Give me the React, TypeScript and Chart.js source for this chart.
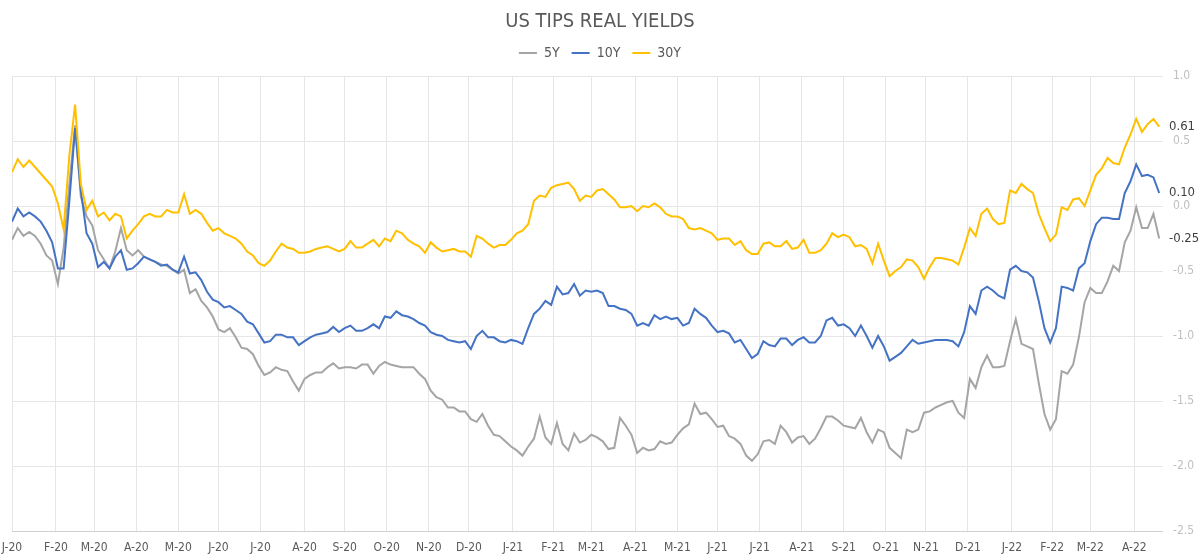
import { useEffect, useRef } from "react";
import { Chart, registerables } from "chart.js";

Chart.register(...registerables);

// ---- data -------------------------------------------------------------
// Observations every 3 weekdays, starting on the first weekday of 2020.
const FIRST_DAY = "2020-01-01";
const LAST_AXIS_DAY = "2022-04-22";
const STEP_WEEKDAYS = 3;

const SERIES_NAMES = ["5Y", "10Y", "30Y"];
const SERIES_COLORS = ["#A5A5A5", "#4472C4", "#FFC000"];

const MONTH_LABELS = [
  "J-20", "F-20", "M-20", "A-20", "M-20", "J-20", "J-20", "A-20", "S-20", "O-20", "N-20", "D-20",
  "J-21", "F-21", "M-21", "A-21", "M-21", "J-21", "J-21", "A-21", "S-21", "O-21", "N-21", "D-21",
  "J-22", "F-22", "M-22", "A-22",
];

const Y_MIN = -2.5;
const Y_MAX = 1.0;
const Y_STEP = 0.5;

// 5-year TIPS real yield (%)
const YIELD_5Y = [
  -0.26, -0.17, -0.23, -0.20, -0.23, -0.29, -0.38, -0.42, -0.60, -0.32,
  0.17, 0.62, 0.07, -0.08, -0.15, -0.34, -0.41, -0.48, -0.35, -0.17,
  -0.34, -0.38, -0.34, -0.39, -0.41, -0.43, -0.45, -0.46, -0.49, -0.52,
  -0.49, -0.67, -0.64, -0.73, -0.78, -0.85, -0.95, -0.97, -0.94, -1.01,
  -1.09, -1.10, -1.14, -1.23, -1.30, -1.28, -1.24, -1.26, -1.27, -1.35,
  -1.42, -1.33, -1.30, -1.28, -1.28, -1.24, -1.21, -1.25, -1.24, -1.24,
  -1.25, -1.22, -1.22, -1.29, -1.23, -1.20, -1.22, -1.23, -1.24, -1.24,
  -1.24, -1.29, -1.33, -1.42, -1.47, -1.49, -1.55, -1.55, -1.58, -1.58,
  -1.64, -1.66, -1.60, -1.69, -1.76, -1.77, -1.81, -1.85, -1.88, -1.92,
  -1.85, -1.79, -1.62, -1.78, -1.83, -1.67, -1.83, -1.88, -1.75, -1.82,
  -1.80, -1.76, -1.78, -1.81, -1.87, -1.86, -1.63, -1.69, -1.76, -1.90,
  -1.86, -1.88, -1.87, -1.81, -1.83, -1.82, -1.76, -1.71, -1.68, -1.52,
  -1.60, -1.59, -1.64, -1.70, -1.69, -1.77, -1.79, -1.83, -1.92, -1.96,
  -1.91, -1.81, -1.80, -1.83, -1.69, -1.74, -1.82, -1.78, -1.77, -1.83,
  -1.79, -1.71, -1.62, -1.62, -1.65, -1.69, -1.70, -1.71, -1.63, -1.74,
  -1.82, -1.72, -1.74, -1.86, -1.90, -1.94, -1.72, -1.74, -1.72, -1.59,
  -1.58, -1.55, -1.53, -1.51, -1.50, -1.59, -1.63, -1.33, -1.40, -1.24,
  -1.15, -1.24, -1.24, -1.23, -1.04, -0.87, -1.06, -1.08, -1.10, -1.36,
  -1.60, -1.72, -1.64, -1.27, -1.29, -1.22, -1.01, -0.74, -0.63, -0.67,
  -0.67, -0.58, -0.46, -0.50, -0.28, -0.19, -0.01, -0.17, -0.17, -0.06,
  -0.25,
];

// 10-year TIPS real yield (%)
const YIELD_10Y = [
  -0.12, -0.02, -0.08, -0.05, -0.08, -0.12, -0.19, -0.28, -0.48, -0.48,
  0.04, 0.60, 0.12, -0.21, -0.29, -0.47, -0.43, -0.48, -0.39, -0.34,
  -0.49, -0.48, -0.44, -0.39, -0.41, -0.43, -0.46, -0.45, -0.49, -0.51,
  -0.39, -0.52, -0.51, -0.57, -0.66, -0.72, -0.74, -0.78, -0.77, -0.80,
  -0.83, -0.89, -0.91, -0.98, -1.05, -1.04, -0.99, -0.99, -1.01, -1.01,
  -1.07, -1.04, -1.01, -0.99, -0.98, -0.97, -0.93, -0.97, -0.94, -0.92,
  -0.96, -0.96, -0.94, -0.91, -0.94, -0.85, -0.86, -0.81, -0.84, -0.85,
  -0.87, -0.90, -0.92, -0.97, -0.99, -1.00, -1.03, -1.04, -1.05, -1.04,
  -1.10, -1.00, -0.96, -1.01, -1.01, -1.04, -1.05, -1.03, -1.04, -1.06,
  -0.94, -0.83, -0.79, -0.73, -0.76, -0.62, -0.68, -0.67, -0.60, -0.69,
  -0.65, -0.66, -0.65, -0.67, -0.77, -0.77, -0.79, -0.80, -0.83, -0.92,
  -0.90, -0.92, -0.84, -0.87, -0.85, -0.87, -0.86, -0.92, -0.90, -0.79,
  -0.83, -0.86, -0.92, -0.97, -0.96, -0.98, -1.05, -1.03, -1.10, -1.17,
  -1.14, -1.04, -1.07, -1.08, -1.02, -1.02, -1.07, -1.03, -1.01, -1.05,
  -1.05, -1.00, -0.88, -0.86, -0.92, -0.91, -0.94, -1.00, -0.92, -1.00,
  -1.09, -1.00, -1.08, -1.19, -1.16, -1.13, -1.08, -1.03, -1.06, -1.05,
  -1.04, -1.03, -1.03, -1.03, -1.04, -1.08, -0.97, -0.77, -0.83, -0.65,
  -0.62, -0.65, -0.69, -0.71, -0.49, -0.46, -0.50, -0.51, -0.55, -0.73,
  -0.94, -1.05, -0.94, -0.62, -0.63, -0.65, -0.48, -0.44, -0.27, -0.14,
  -0.09, -0.09, -0.10, -0.10, 0.10, 0.19, 0.32, 0.23, 0.24, 0.22,
  0.10,
];

// 30-year TIPS real yield (%)
const YIELD_30Y = [
  0.26, 0.36, 0.30, 0.35, 0.30, 0.25, 0.20, 0.15, 0.02, -0.18,
  0.39, 0.78, 0.17, -0.03, 0.04, -0.08, -0.05, -0.11, -0.06, -0.08,
  -0.25, -0.19, -0.14, -0.08, -0.06, -0.08, -0.08, -0.03, -0.05, -0.05,
  0.09, -0.06, -0.03, -0.06, -0.13, -0.19, -0.17, -0.21, -0.23, -0.25,
  -0.29, -0.35, -0.38, -0.44, -0.46, -0.42, -0.35, -0.29, -0.32, -0.33,
  -0.36, -0.36, -0.35, -0.33, -0.32, -0.31, -0.33, -0.35, -0.33, -0.27,
  -0.32, -0.32, -0.29, -0.26, -0.31, -0.25, -0.27, -0.19, -0.21, -0.26,
  -0.29, -0.31, -0.36, -0.28, -0.32, -0.35, -0.34, -0.33, -0.35, -0.35,
  -0.39, -0.23, -0.25, -0.29, -0.32, -0.30, -0.30, -0.26, -0.21, -0.19,
  -0.14, 0.04, 0.08, 0.07, 0.14, 0.16, 0.17, 0.18, 0.13, 0.04,
  0.08, 0.07, 0.12, 0.13, 0.09, 0.05, -0.01, -0.01, 0.00, -0.04,
  0.00, -0.01, 0.02, -0.01, -0.06, -0.08, -0.08, -0.10, -0.17, -0.18,
  -0.17, -0.19, -0.21, -0.26, -0.25, -0.25, -0.30, -0.27, -0.34, -0.37,
  -0.37, -0.29, -0.28, -0.31, -0.31, -0.27, -0.33, -0.32, -0.26, -0.36,
  -0.36, -0.34, -0.29, -0.21, -0.24, -0.22, -0.24, -0.31, -0.30, -0.33,
  -0.44, -0.29, -0.42, -0.54, -0.50, -0.47, -0.41, -0.42, -0.47, -0.56,
  -0.47, -0.40, -0.40, -0.41, -0.42, -0.45, -0.32, -0.17, -0.23, -0.06,
  -0.02, -0.10, -0.14, -0.13, 0.12, 0.10, 0.17, 0.13, 0.10, -0.06,
  -0.17, -0.27, -0.22, -0.01, -0.03, 0.05, 0.06, 0.00, 0.12, 0.24,
  0.29, 0.37, 0.33, 0.32, 0.45, 0.55, 0.67, 0.57, 0.63, 0.67,
  0.61,
];

const SERIES_VALUES = [YIELD_5Y, YIELD_10Y, YIELD_30Y];

// ---- helpers -------------------------------------------------------------
const FONT = "'Liberation Sans Narrow', 'DejaVu Sans Condensed', 'Roboto', sans-serif";

function parseDay(s: string): Date {
  const [y, m, d] = s.split("-").map(Number);
  return new Date(Date.UTC(y, m - 1, d));
}

// number of weekdays from FIRST_DAY up to (not including) the given date
function weekdayIndex(target: Date): number {
  const d = parseDay(FIRST_DAY);
  let n = 0;
  while (d < target) {
    const w = d.getUTCDay();
    if (w !== 0 && w !== 6) n++;
    d.setUTCDate(d.getUTCDate() + 1);
  }
  return n;
}

function monthTickPositions(): number[] {
  const start = parseDay(FIRST_DAY);
  return MONTH_LABELS.map((_, i) =>
    weekdayIndex(new Date(Date.UTC(start.getUTCFullYear(), start.getUTCMonth() + i, 1)))
  );
}

// extra room between the legend row and the plot
const legendGap = {
  id: "legendGap",
  afterInit(chart: any) {
    const legend = chart.legend;
    if (!legend) return;
    const baseFit = legend.fit;
    legend.fit = function () {
      baseFit.call(this);
      this.height += 6;
    };
  },
};

// value labels printed just right of the plot, at each series' last point
const lastValueLabels = {
  id: "lastValueLabels",
  afterDatasetsDraw(chart: any) {
    const { ctx, chartArea } = chart;
    chart.data.datasets.forEach((ds: any, i: number) => {
      const meta = chart.getDatasetMeta(i);
      const pt = meta.data[meta.data.length - 1];
      const v = ds.data[ds.data.length - 1].y as number;
      ctx.save();
      ctx.font = `13px ${FONT}`;
      ctx.fillStyle = "#404040";
      ctx.textAlign = "left";
      ctx.textBaseline = "middle";
      ctx.fillText(v.toFixed(2), chartArea.right + 6, pt.y);
      ctx.restore();
    });
  },
};

export default function App() {
  const canvasRef = useRef<HTMLCanvasElement | null>(null);

  useEffect(() => {
    document.body.style.margin = "0";
    const canvas = canvasRef.current;
    if (!canvas) return;

    const ticksAt = monthTickPositions();
    const xMax = weekdayIndex(parseDay(LAST_AXIS_DAY));

    const datasets = SERIES_NAMES.map((name, s) => ({
      label: name,
      data: SERIES_VALUES[s].map((v, k) => ({ x: k * STEP_WEEKDAYS, y: v })),
      borderColor: SERIES_COLORS[s],
      backgroundColor: SERIES_COLORS[s],
      borderWidth: 2,
      pointRadius: 0,
      pointStyle: "line" as const,
      tension: 0,
      order: SERIES_NAMES.length - s,
    }));

    const chart = new Chart(canvas, {
      type: "line",
      data: { datasets },
      plugins: [legendGap, lastValueLabels],
      options: {
        animation: false,
        responsive: true,
        maintainAspectRatio: false,
        layout: { padding: 0 },
        plugins: {
          title: {
            display: true,
            text: "US TIPS REAL YIELDS",
            color: "#595959",
            font: { family: FONT, size: 20, weight: "normal" },
            padding: { top: 10, bottom: 0 },
          },
          legend: {
            display: true,
            position: "top",
            labels: {
              usePointStyle: true,
              pointStyleWidth: 18,
              boxHeight: 14,
              color: "#595959",
              font: { family: FONT, size: 14 },
              padding: 12,
              sort: (a: any, b: any) => a.datasetIndex - b.datasetIndex,
            },
          },
          tooltip: { enabled: false },
        },
        scales: {
          x: {
            type: "linear",
            min: 0,
            max: xMax,
            afterBuildTicks: (scale: any) => {
              scale.ticks = ticksAt.map((v) => ({ value: v }));
            },
            afterFit: (scale: any) => {
              scale.height = 27;
              scale.paddingLeft = 12;
            },
            ticks: {
              autoSkip: false,
              maxRotation: 0,
              minRotation: 0,
              color: "#595959",
              font: { family: FONT, size: 12 },
              padding: 10,
              callback: (_v: any, i: number) => MONTH_LABELS[i],
            },
            grid: { color: "#e6e6e6", drawTicks: false },
            border: { display: false },
          },
          y: {
            position: "right",
            min: Y_MIN,
            max: Y_MAX,
            ticks: {
              stepSize: Y_STEP,
              color: "#bfbfbf",
              font: { family: FONT, size: 12 },
              padding: 10,
              callback: (v: any) => Number(v).toFixed(1),
            },
            grid: {
              color: (c: any) => (c.tick && c.tick.value === Y_MIN ? "#d0d0d0" : "#e6e6e6"),
              drawTicks: false,
            },
            border: { display: false },
            afterFit: (scale: any) => {
              scale.width = 37;
            },
          },
        },
      },
    });

    return () => chart.destroy();
  }, []);

  return (
    <div style={{ width: 1200, height: 558, position: "relative", background: "#fff" }}>
      <canvas ref={canvasRef} />
    </div>
  );
}
